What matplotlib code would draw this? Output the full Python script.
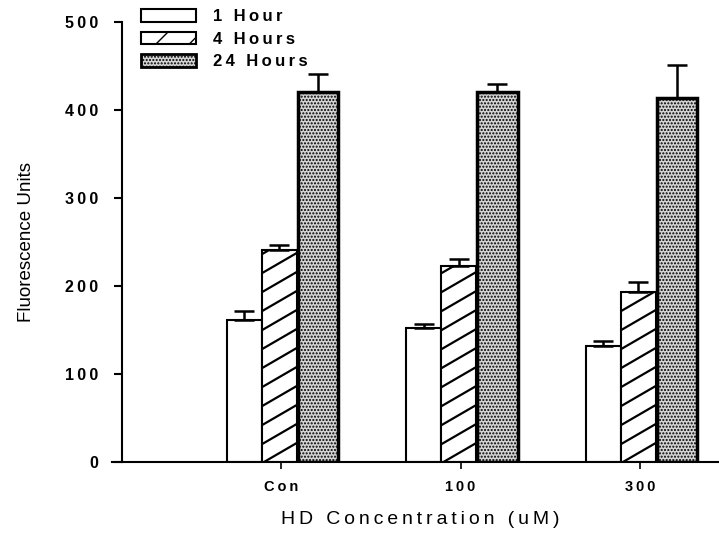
import numpy as np
import matplotlib
matplotlib.use("Agg")
import matplotlib.pyplot as plt
from matplotlib.patches import Patch
from matplotlib.lines import Line2D
from matplotlib.transforms import IdentityTransform

groups = ["Con", "100", "300"]
series = ["1 Hour", "4 Hours", "24 Hours"]
means = {
    "1 Hour": [161, 152, 132],
    "4 Hours": [241, 223, 193],
    "24 Hours": [420, 420, 414],
}
errors = {
    "1 Hour": [11, 5, 5],
    "4 Hours": [6, 8, 12],
    "24 Hours": [21, 9, 37],
}
yticks = [0, 100, 200, 300, 400, 500]


def spaced(s, sep="\u2009"):
    # the original typesetting has wide letter spacing
    return sep.join(s)


plt.rcParams['font.family'] = ['Liberation Sans', 'DejaVu Sans']
plt.rcParams['hatch.linewidth'] = 1.0

fig = plt.figure(figsize=(7.19, 5.38), dpi=100)
ax = fig.add_axes([122 / 719, 1 - 462 / 538, 1 - 122 / 719, 440 / 538])

x = np.arange(len(groups))
offsets = [-0.205, -0.01, 0.205]
widths = [0.195, 0.195, 0.225]
styles = [
    dict(facecolor="white", edgecolor="black", linewidth=1.5),
    dict(facecolor="white", edgecolor="black", linewidth=1.5),
    dict(facecolor="#d4d4d4", edgecolor="black", linewidth=2.5, hatch="....."),
]

bar_sets = []
for s, off, w, st in zip(series, offsets, widths, styles):
    bars = ax.bar(x + off, means[s], w, yerr=[np.zeros(3), errors[s]],
                  capsize=7, error_kw=dict(elinewidth=1.8, capthick=1.8, ecolor="black"),
                  zorder=2, **st)
    bar_sets.append(bars)

ax.set_xlim(-0.886, 2.44)
ax.set_ylim(0, 500)

# slanted lines for the 4 hour bars, drawn in pixels and clipped to each bar
fig.canvas.draw()
for b in bar_sets[1]:
    bb = b.get_window_extent()
    slope = 0.58
    step = 19
    c = bb.y0 - slope * bb.x1 - step
    while c < bb.y1 - slope * bb.x0 + step:
        xs = np.array([bb.x0 - 5, bb.x1 + 5])
        ln = Line2D(xs, slope * xs + c, transform=IdentityTransform(),
                    color="black", linewidth=1.6, zorder=3)
        ax.add_artist(ln)
        ln.set_clip_path(b)
        c += step

for side in ["top", "right"]:
    ax.spines[side].set_visible(False)
ax.spines["left"].set_linewidth(1.5)
ax.spines["bottom"].set_linewidth(1.5)
ax.spines["bottom"].set_bounds(-0.94, 2.44)

ax.set_yticks(yticks)
ax.set_yticklabels([spaced(str(t)) for t in yticks])
ax.set_xticks(x)
ax.set_xticklabels([spaced(g) for g in groups])
ax.tick_params(axis="y", length=6, width=1.5, labelsize=11.5, pad=11)
ax.tick_params(axis="x", length=5, width=1.2, labelsize=10.5, pad=8)
for lab in ax.get_yticklabels() + ax.get_xticklabels():
    lab.set_fontweight("bold")

ax.set_ylabel("Fluorescence Units", fontsize=13.5, labelpad=22)
ax.set_xlabel(spaced("HD Concentration (uM)"), fontsize=14, labelpad=12)

handles = [
    Patch(facecolor="white", edgecolor="black", linewidth=1.5),
    Patch(facecolor="white", edgecolor="black", linewidth=1.5, hatch="/"),
    Patch(facecolor="#d4d4d4", edgecolor="black", linewidth=2.0, hatch="....."),
]
fig.legend(handles, [spaced(s) for s in series], loc="upper left",
           bbox_to_anchor=(141 / 719, 1 - 9 / 538),
           frameon=False, borderpad=0, borderaxespad=0, handlelength=3.3,
           handleheight=0.8, labelspacing=0.45, handletextpad=1.0,
           prop=dict(size=12, weight="bold"))

fig.savefig("out.png", dpi=100)
